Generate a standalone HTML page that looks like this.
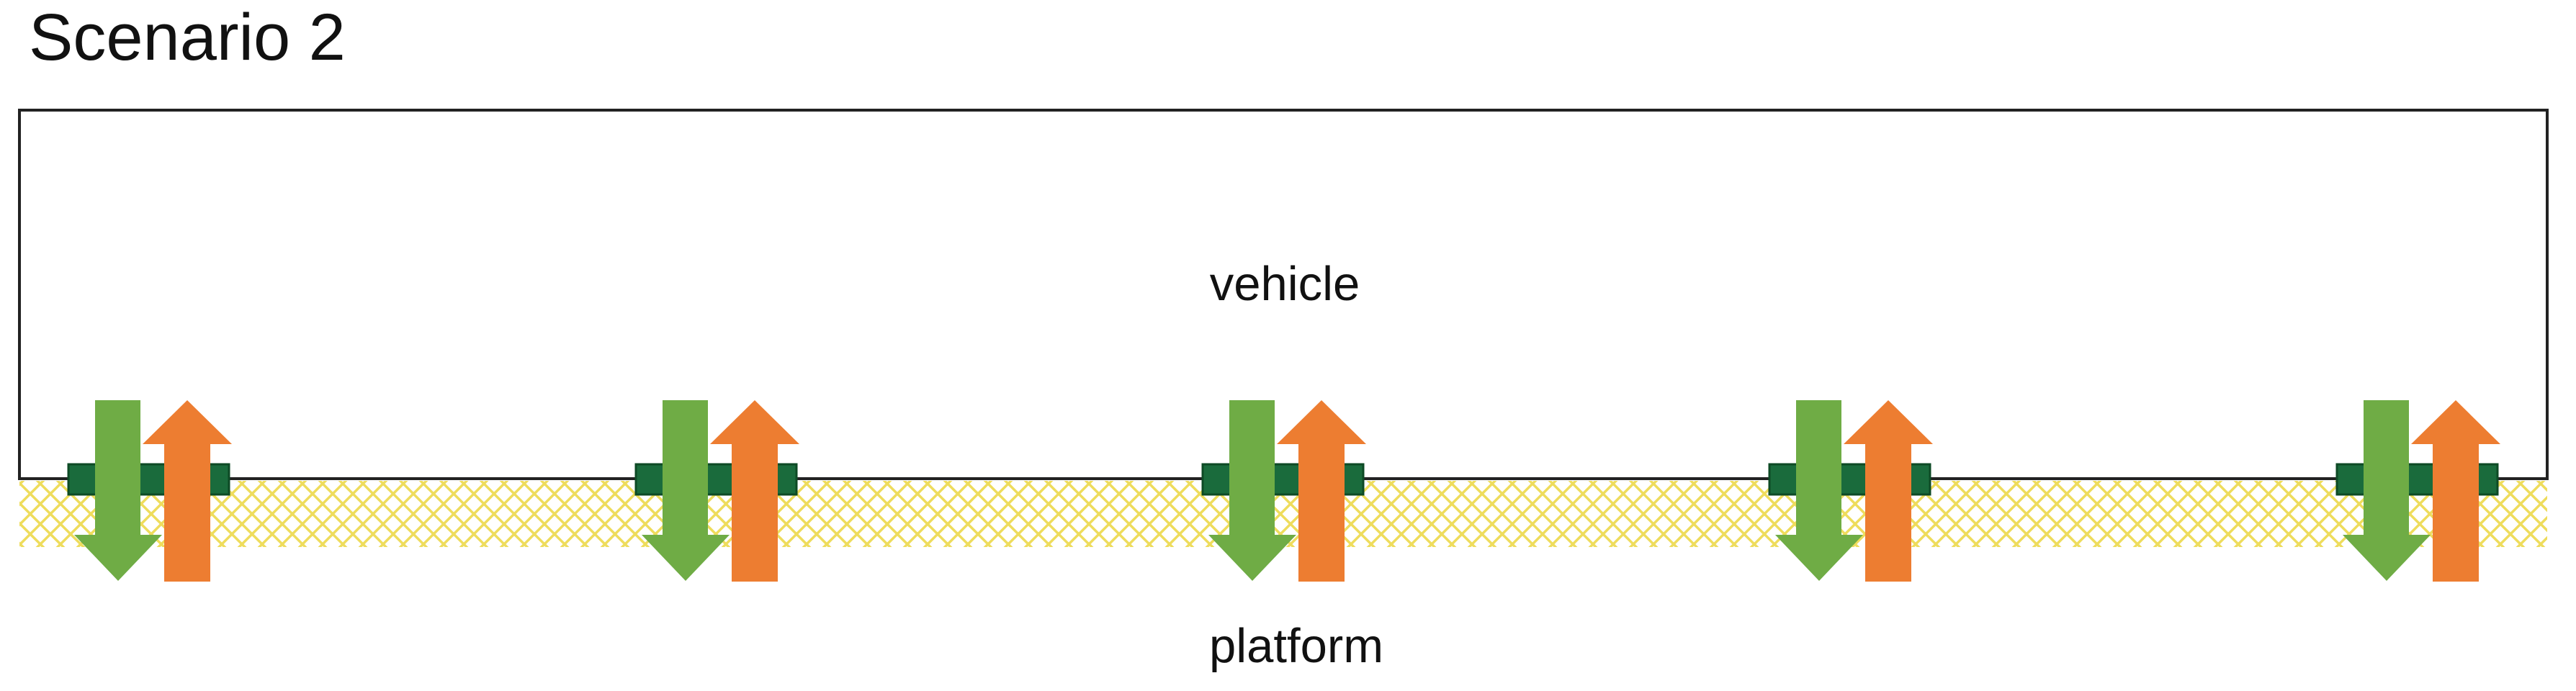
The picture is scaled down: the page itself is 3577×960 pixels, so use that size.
<!DOCTYPE html>
<html><head><style>
html,body{margin:0;padding:0;background:#fff;}
body{width:3577px;height:955px;overflow:hidden;}
</style></head><body>
<svg width="3577" height="955" viewBox="0 0 3577 955" xmlns="http://www.w3.org/2000/svg">
<defs>
<pattern id="h" width="28" height="28" patternUnits="userSpaceOnUse">
<path d="M0 0 L28 28 M28 0 L0 28" stroke="#ecd84a" stroke-width="3.5" opacity="0.9"/>
</pattern>
<g id="grp">
<rect x="0" y="645" width="223" height="42" fill="#1a6b3c"/>
<rect x="0" y="645" width="223" height="42" fill="none" stroke="#0d4a25" stroke-width="3"/>
<polygon points="37,556 100,556 100,743 130,743 69,807 8,743 37,743" fill="#6fac45"/>
<polygon points="133,808 197,808 197,617 227,617 165,556 103,617 133,617" fill="#ed7d31"/>
</g>
</defs>
<text x="40" y="83" font-family="Liberation Sans, sans-serif" font-size="92" fill="#111">Scenario 2</text>
<rect x="27" y="668" width="3510" height="92" fill="url(#h)"/>
<rect x="27" y="153" width="3510" height="512" fill="none" stroke="#222" stroke-width="4"/>
<text x="1784" y="417" text-anchor="middle" font-family="Liberation Sans, sans-serif" font-size="67" fill="#111">vehicle</text>
<text x="1800" y="920" text-anchor="middle" font-family="Liberation Sans, sans-serif" font-size="67" fill="#111">platform</text>
<use href="#grp" x="95"/>
<use href="#grp" x="883"/>
<use href="#grp" x="1670"/>
<use href="#grp" x="2457"/>
<use href="#grp" x="3245"/>
</svg>
</body></html>
